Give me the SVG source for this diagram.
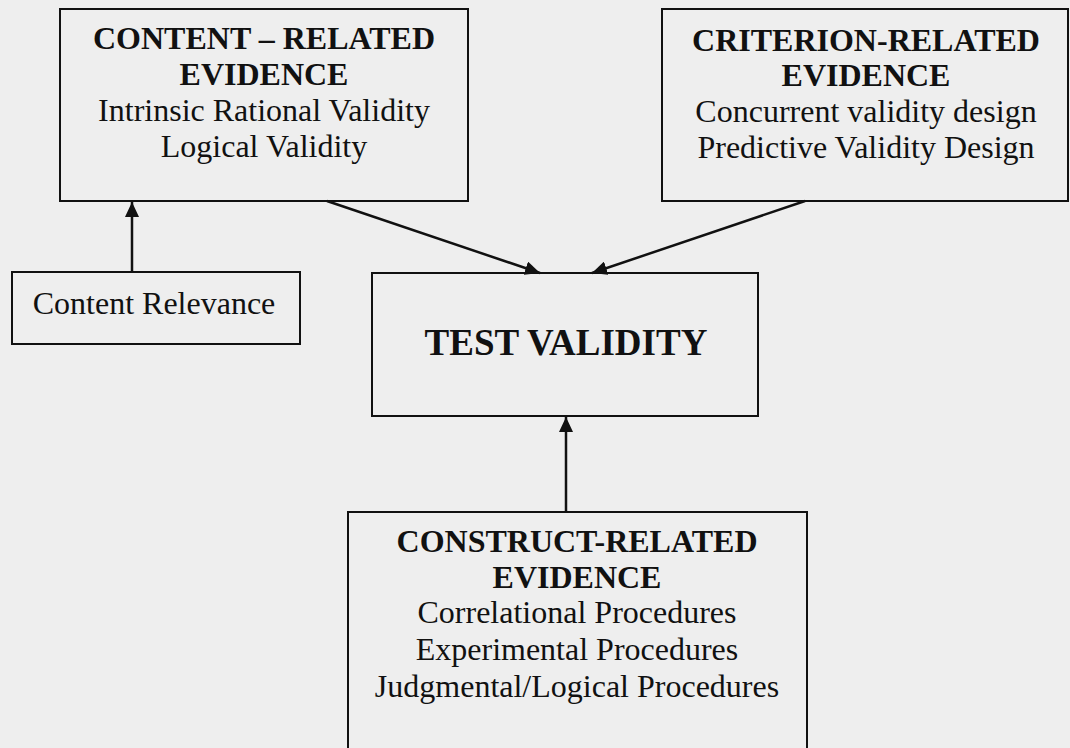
<svg xmlns="http://www.w3.org/2000/svg" width="1070" height="748" viewBox="0 0 1070 748">
<defs>
<style>
.box{fill:#eeeeee;stroke:#111;stroke-width:2}
.t{font-family:"Liberation Serif","Times New Roman",serif;font-size:32px;fill:#111;text-anchor:middle}
.b{font-weight:bold}
.big{font-size:37px;font-weight:bold}
.c{stroke:#111;stroke-width:2.5;fill:none}
</style>
<marker id="ah" viewBox="0 0 15 14" refX="15" refY="7" markerWidth="15" markerHeight="14" markerUnits="userSpaceOnUse" orient="auto">
<path d="M0,0 L15,7 L0,14 z" fill="#111"/>
</marker>
</defs>
<rect x="0" y="0" width="1070" height="748" fill="#eeeeee"/>
<g id="content">
<rect class="box" x="60" y="9" width="408" height="192"/>
<text class="t b" x="264" y="49">CONTENT – RELATED</text>
<text class="t b" x="264" y="85">EVIDENCE</text>
<text class="t" x="264" y="121">Intrinsic Rational Validity</text>
<text class="t" x="264" y="157">Logical Validity</text>
</g>
<g id="criterion">
<rect class="box" x="662" y="9" width="406" height="192"/>
<text class="t b" x="866" y="51">CRITERION-RELATED</text>
<text class="t b" x="866" y="86">EVIDENCE</text>
<text class="t" x="866" y="122">Concurrent validity design</text>
<text class="t" x="866" y="158">Predictive Validity Design</text>
</g>
<g id="relevance">
<rect class="box" x="12" y="272" width="288" height="72"/>
<text class="t" x="154" y="314">Content Relevance</text>
</g>
<g id="test">
<rect class="box" x="372" y="273" width="386" height="143"/>
<text class="t big" x="566" y="355">TEST VALIDITY</text>
</g>
<g id="construct">
<rect class="box" x="348" y="512" width="459" height="260"/>
<text class="t b" x="577" y="552">CONSTRUCT-RELATED</text>
<text class="t b" x="577" y="588">EVIDENCE</text>
<text class="t" x="577" y="623">Correlational Procedures</text>
<text class="t" x="577" y="660">Experimental Procedures</text>
<text class="t" x="577" y="697">Judgmental/Logical Procedures</text>
</g>
<g id="connectors">
<line class="c" x1="132" y1="272" x2="132" y2="202" marker-end="url(#ah)"/>
<line class="c" x1="327" y1="201" x2="540" y2="273" marker-end="url(#ah)"/>
<line class="c" x1="805" y1="201" x2="592" y2="273" marker-end="url(#ah)"/>
<line class="c" x1="566" y1="512" x2="566" y2="417" marker-end="url(#ah)"/>
</g>
</svg>
